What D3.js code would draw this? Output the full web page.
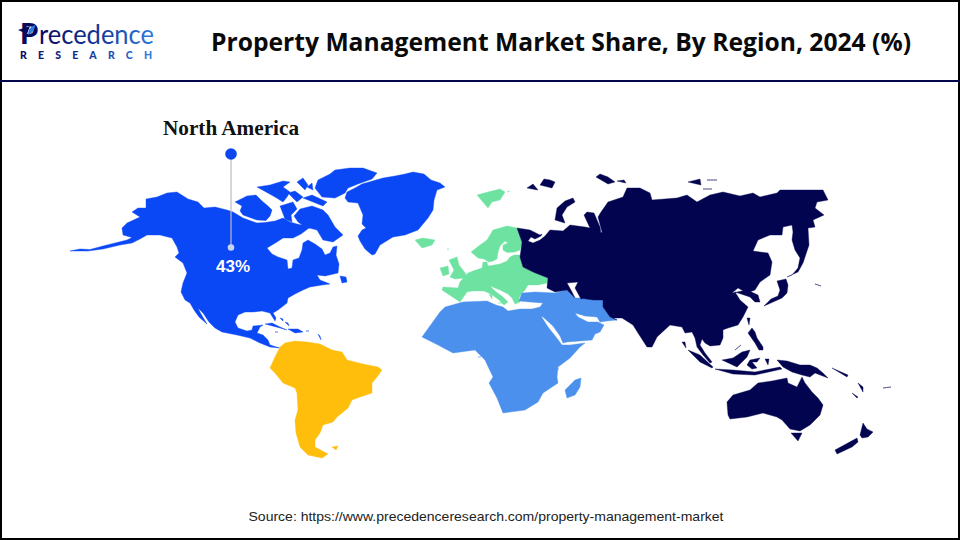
<!DOCTYPE html>
<html><head><meta charset="utf-8">
<script src="https://cdn.jsdelivr.net/npm/d3@7"></script>
<style>html,body{margin:0;background:#fff}svg{display:block}</style></head>
<body><svg id="c" width="960" height="540"></svg>
<script>
// Region categories and the one printed share
const regionNames = ["North America","South America","Europe","Middle East and Africa","Asia Pacific"];
const regionColors = ["#0a47f5","#ffbe0b","#6de2a1","#4a90ec","#020450"];
const labelledRegion = "North America";
const labelledShare = 43;
const titleText = "Property Management Market Share, By Region, 2024 (%)";
const sourceText = "Source: https://www.precedenceresearch.com/property-management-market";

// Outlines in map units, [east of the map origin, north of the map origin]
const northAmerica = [
 [[-390,94],[-380,96],[-370,95.5],[-357,99],[-345,102],[-333,105],[-328,107.5],[-337,110],[-338,117],[-333,122],[-320,128],[-328,133],[-322,137],[-314,137],[-314,146],[-303,148],[-293,152],[-283,153],[-272,146],[-262,143],[-256,137],[-245,138],[-233,135],[-227,133],[-217,127],[-203,122],[-195,122.5],[-185,124],[-177,127],[-170,123],[-163,121],[-154,119],[-151,117],[-159,111],[-167,107],[-177,107],[-183,103],[-193,97],[-188,91],[-182,88],[-173,85],[-172,76],[-168,77],[-167,85],[-161,87],[-158,95],[-157,102],[-152,105],[-145,101],[-138,96],[-135,90],[-130,92],[-127,98],[-123,99],[-124,90],[-121,81],[-122,72],[-135,69],[-143,70],[-140,65],[-130,61],[-138,60],[-150,58],[-157,55],[-165,51],[-172,47],[-173,42],[-182,35],[-187,32],[-184,27],[-185,24],[-190,32],[-198,34],[-207,33],[-215,33],[-222,30],[-225,23],[-222,17],[-213,14],[-208,15],[-207,19],[-197,20],[-200,18],[-203,12],[-197,10],[-192,5],[-190,0],[-180,-3],[-190,-2],[-200,2],[-210,7],[-223,10],[-238,13],[-245,17],[-251,23],[-257,32],[-262,37],[-259,31],[-253,21],[-261,28],[-266,35],[-270,42],[-275,45],[-279,53],[-277,62],[-273,72],[-277,82],[-285,88],[-281,92],[-283,98],[-288,107],[-300,110],[-313,110],[-320,106],[-328,102],[-340,100],[-357,96],[-372,94],[-388,93]],
 // Greenland
 [[-77,167],[-65,169],[-55,171],[-47,173],[-36,171],[-29,165],[-20,162],[-15,158],[-23,155],[-26,145],[-27,135],[-32,127],[-42,115],[-55,110],[-67,108],[-80,100],[-85,91],[-88,90],[-95,96],[-100,104],[-102,109],[-98,115],[-94,117],[-98,121],[-97,130],[-102,142],[-112,143],[-115,147],[-113,153],[-105,157],[-98,161],[-88,164]],
 // Ellesmere
 [[-145,157],[-142,165],[-130,171],[-125,175],[-110,177],[-97,177],[-83,172],[-88,166],[-102,161],[-112,157],[-115,152],[-125,147],[-138,148],[-143,150]],
 // Banks and Victoria
 [[-225,143],[-213,149],[-204,150],[-198,144],[-192,139],[-188,135],[-190,129],[-194,124.5],[-203,125],[-217,130],[-220,134],[-218,139],[-221,137]],
 // Arctic islands
 [[-203,158],[-190,160],[-177,164],[-170,163],[-177,158],[-170,153],[-173,148],[-177,143],[-185,148],[-197,153]],
 [[-163,163],[-157,167],[-152,160],[-155,155],[-162,157]],
 [[-153,158],[-148,162],[-147,155],[-152,153]],
 [[-172,152],[-165,154],[-157,148],[-163,143],[-170,147]],
 [[-157,147],[-148,150],[-133,143],[-137,139],[-148,140]],
 [[-180,139],[-167,143],[-163,136],[-169,130],[-168,123],[-175,126],[-176,133]],
 // Baffin
 [[-166,129],[-160,136],[-148,139],[-137,135],[-132,130],[-125,118],[-117,110],[-127,103],[-137,105],[-143,115],[-155,118],[-162,123],[-167,124]],
 // Newfoundland
 [[-120,69],[-114,68],[-113,63],[-118,62],[-122,66]],
 // Caribbean
 [[-195,21],[-188,22],[-180,18],[-173,15],[-180,17],[-188,20]],
 [[-172,16],[-162,16],[-157,13],[-165,12],[-170,13]],
 [[-180,27],[-177,26],[-177,24],[-180,25]],
 [[-175,23],[-172,22],[-171,19],[-174,20]],
 [[-185,13],[-182,13],[-183,11]],
 [[-154,14],[-151,14],[-152,12.5]],
 [[-142,11],[-140,9],[-139,5],[-141,7]]
];
const southAmerica = [
 [[-180,-2],[-175,2],[-165,4],[-153,3],[-140,1],[-128,-5],[-118,-7],[-113,-15],[-97,-19],[-82,-22],[-78,-25],[-83,-32],[-88,-38],[-88,-48],[-100,-52],[-108,-55],[-112,-63],[-123,-72],[-127,-77],[-137,-80],[-140,-88],[-145,-95],[-145,-102],[-132,-109],[-138,-113],[-152,-110],[-160,-102],[-164,-88],[-165,-75],[-162,-65],[-163,-48],[-165,-43],[-177,-38],[-185,-28],[-190,-23],[-185,-12],[-180,-8]],
 [[-128,-102],[-122,-101],[-124,-105],[-128,-105]]
];
const europe = [
 [[-18,55],[-17,58],[-2,57],[0,63],[8,72],[13,74],[22,77],[23,83],[27,83],[28,79],[40,81],[47,84],[50,88],[54,90],[60,90],[63,78],[73,73],[88,67],[87,62],[78,60],[68,60],[65,55],[62,52],[59,47],[60,43],[55,41],[52,47],[48,51],[40,55],[30,59],[35,54],[43,48],[48,43],[44,40],[39,45],[31,51],[24,54],[12,54],[7,53],[0,43],[-15,43]],
 // Scandinavia
 [[11,93],[20,100],[27,105],[33,115],[47,119],[57,117],[60,110],[62,103],[60,95],[55,93],[47,92.5],[43,95],[43,100],[48,102],[45,104],[40,99],[38,93],[37,86],[33,84],[29,83],[24,86],[18,87],[13,87]],
 // Britain, Ireland, Iceland, Svalbard
 [[-11,85],[-3,88],[-1,80],[6,71],[5,67],[-5,66],[-10,68],[-6,75],[-10,79]],
 [[-20,77],[-12,79],[-11,71],[-17,69],[-20,73]],
 [[-45,105],[-37,107],[-25,105],[-28,100],[-38,97],[-44,100]],
 [[17,150],[28,153],[40,156],[45,153],[40,145],[32,143],[28,137],[20,145]],
 [[47,153],[50,154],[49,152]],
 [[-13,96],[-11,96],[-11,94]],
 // Mediterranean islands
 [[29,51],[32,50],[32,46],[29,46]],
 [[38,42],[42,42],[40,39]]
];
const middleEastAfrica = [
 [[-20,33],[-15,38],[3,43],[27,44],[36,40],[43,38],[48,34],[60,36],[72,36],[80,38],[83,42],[70,43],[59,44],[62,52],[75,53],[95,52],[107,55],[115,47],[123,47],[133,45],[143,45],[143,38],[150,28],[157,25],[147,24],[140,23],[137,28],[125,29],[115,32],[118,28],[128,23],[138,23],[144,20],[140,13],[135,11],[132,5],[120,4],[107,3],[103,2],[100,9],[93,19],[83,28],[81,29],[88,18],[96,8],[102,0],[110,0],[125,2],[120,-2],[110,-13],[98,-22],[97,-32],[98,-38],[83,-48],[78,-57],[65,-65],[43,-68],[37,-53],[29,-38],[33,-32],[25,-15],[15,-5],[-7,-8],[-22,0],[-38,8],[-37,18]],
 [[105,-45],[115,-35],[121,-33],[120,-42],[115,-50],[107,-53],[103,-50]],
 [[18,-12],[21,-12],[20,-15]],
 [[96,-24],[99,-24],[98,-26]]
];
const asiaPacific = [
 [[57,117],[70,115],[80,110],[82,111],[81,109],[75,106],[71,108],[68,104],[73,102],[80,105],[85,109],[90,115],[103,114],[110,120],[125,118],[130,117],[124,130],[127,133],[134,132],[140,118],[141,112],[142,113],[138,128],[141,133],[148,143],[163,148],[167,157],[180,157],[190,152],[192,145],[217,147],[227,150],[237,143],[250,150],[263,153],[280,149],[293,152],[300,148],[317,152],[320,155],[347,155],[363,155],[368,145],[357,143],[355,137],[364,130],[353,125],[355,118],[348,117],[349,100],[345,88],[343,82],[338,73],[327,68],[332,70],[338,77],[340,87],[335,95],[332,105],[333,113],[332,120],[323,118],[322,110],[310,110],[298,105],[293,94],[300,93],[308,92],[312,83],[310,70],[300,63],[295,55],[287,52],[278,57],[272,52],[287,55],[298,50],[300,43],[295,43],[290,48],[275,53],[280,45],[288,38],[283,28],[278,20],[268,17],[257,13],[263,16],[263,7],[260,0],[250,-1],[245,2],[242,6],[240,0],[245,-8],[252,-17],[250,-18],[243,-10],[237,-2],[235,7],[232,13],[225,12],[222,18],[210,20],[197,8],[192,-2],[187,-2],[178,12],[173,20],[162,27],[153,27],[157,25],[150,28],[143,38],[143,45],[133,45],[123,46.5],[121,46],[115,57],[118,63],[107,62],[112,53],[115,47],[107,55],[95,53],[87,57],[88,67],[73,73],[63,78],[60,88],[61,95],[62,103],[60,110]],
 // Novaya Zemlya and Arctic islands
 [[95,125],[97,137],[105,144],[113,147],[115,143],[107,138],[102,130],[105,122],[98,121]],
 [[67,157],[73,161],[78,155],[72,154]],
 [[80,160],[84,166],[90,165],[95,163],[92,157],[80,156]],
 [[136,168],[140,171],[148,168],[155,163],[148,161],[140,163]],
 [[157,164],[164,165],[166,162],[160,157]],
 [[228,163],[240,166],[241,160],[233,158]],
 [[247,165],[257,165],[252,163]],
 [[243,156],[252,156],[248,153]],
 // Japan and near islands
 [[304,39],[311,46],[318,49],[320,55],[317,64],[326,66],[328,60],[327,52],[322,47],[313,43],[308,38]],
 [[287,27],[290,27],[289,20],[286,20]],
 [[355,61],[361,59],[358,58]],
 // Philippines
 [[288,12],[292,17],[295,13],[297,7],[303,-2],[303,-5],[299,-5],[295,2],[288,5]],
 [[275,-5],[281,0],[279,-6]],
 // Borneo, Sulawesi, Sumatra, Java arc
 [[262,-15],[273,-13],[282,-7],[290,-5],[287,-12],[282,-17],[277,-22],[267,-21]],
 [[287,-20],[290,-15],[300,-13],[297,-17],[292,-17],[297,-23],[292,-24],[288,-23]],
 [[228,-5],[240,-10],[253,-22],[252,-23],[240,-17],[230,-10]],
 [[255,-24],[273,-25],[295,-27],[320,-22],[322,-24],[295,-30],[273,-29],[256,-27]],
 [[222,3],[225,3],[226,-3],[224,-3]],
 // New Guinea and Melanesia
 [[317,-15],[327,-16],[340,-20],[350,-20],[357,-23],[363,-28],[368,-33],[355,-28],[350,-32],[342,-30],[332,-27],[323,-22],[315,-18]],
 [[372,-23],[388,-30],[387,-32],[370,-25]],
 [[305,-14],[309,-14],[308,-20],[305,-19]],
 [[398,-38],[403,-42],[403,-47],[400,-43]],
 [[392,-48],[398,-52],[397,-53],[391,-49]],
 [[423,-43],[431,-42],[428,-44]],
 // Australia and Tasmania
 [[267,-57],[273,-50],[290,-45],[298,-38],[312,-36],[327,-33],[328,-38],[337,-42],[342,-32],[345,-38],[352,-47],[358,-53],[363,-60],[360,-70],[350,-80],[340,-86],[330,-84],[322,-75],[317,-72],[303,-68],[287,-72],[270,-74],[268,-70],[270,-62]],
 [[331,-88],[342,-88],[338,-96],[333,-96]],
 // New Zealand
 [[403,-78],[407,-84],[413,-87],[408,-92],[402,-93],[400,-90],[405,-85]],
 [[397,-93],[398,-97],[392,-102],[377,-109],[375,-105],[387,-98]]
];
const regionShapes = [northAmerica,southAmerica,europe,middleEastAfrica,asiaPacific];

const svg = d3.select("#c");
const W = 960, H = 540;

const grad = svg.append("defs").append("linearGradient").attr("id","logoGrad");
grad.append("stop").attr("offset","0%").attr("stop-color","#0a0a5c");
grad.append("stop").attr("offset","55%").attr("stop-color","#123a9c");
grad.append("stop").attr("offset","100%").attr("stop-color","#2f7de0");

// Frame and header rule
svg.append("rect").attr("x",1).attr("y",1).attr("width",W-2).attr("height",H-2)
  .attr("fill","none").attr("stroke","#000").attr("stroke-width",2);
svg.append("line").attr("x1",0).attr("x2",W).attr("y1",81).attr("y2",81)
  .attr("stroke","#05054a").attr("stroke-width",2);

// Map through d3's geo path
const projection = d3.geoIdentity().reflectY(true).translate([460,345]);
const path = d3.geoPath(projection);
const features = regionNames.map((name,i)=>({type:"Feature",properties:{name,color:regionColors[i]},
  geometry:{type:"MultiPolygon",coordinates:regionShapes[i].map(r=>[r])}}));
svg.append("g").selectAll("path").data(features).join("path")
  .attr("d",path).attr("fill",d=>d.properties.color).attr("stroke",d=>d.properties.color)
  .attr("stroke-width",0.4).attr("stroke-linejoin","round");

// Callout
const callout = svg.append("g");
callout.append("line").attr("x1",231).attr("x2",231).attr("y1",154).attr("y2",247)
  .attr("stroke","#b9bcc4").attr("stroke-width",1.2);
callout.append("circle").attr("cx",231).attr("cy",154).attr("r",5.8).attr("fill","#0a47f0");
callout.append("circle").attr("cx",231).attr("cy",247.5).attr("r",3.3).attr("fill","#c7d3f2");
callout.append("text").attr("x",231).attr("y",135).attr("text-anchor","middle")
  .attr("font-family","Liberation Serif").attr("font-weight","700").attr("font-size",21)
  .attr("textLength",136).attr("lengthAdjust","spacingAndGlyphs")
  .attr("fill","#111").text(labelledRegion);
callout.append("text").attr("x",233).attr("y",272).attr("text-anchor","middle")
  .attr("font-family","Liberation Sans").attr("font-weight","700").attr("font-size",17)
  .attr("fill","#fff").text(labelledShare+"%");

// Title and source
svg.append("text").attr("x",561).attr("y",51).attr("text-anchor","middle")
  .attr("font-family","Open Sans").attr("font-weight","700").attr("font-size",25)
  .attr("textLength",700).attr("lengthAdjust","spacingAndGlyphs").attr("fill","#0a0a0a").text(titleText);
svg.append("text").attr("x",486).attr("y",521).attr("text-anchor","middle")
  .attr("font-family","Liberation Sans").attr("font-size",13.2)
  .attr("textLength",475).attr("lengthAdjust","spacingAndGlyphs").attr("fill","#222").text(sourceText);

// Logo
const logo = svg.append("g");
logo.append("text").attr("x",20).attr("y",44).attr("font-family","Lato").attr("font-weight","900")
  .attr("font-size",29).attr("fill","#0a0a5c").text("P");
logo.append("path").attr("d","M18 30 L30 26 L27 34 Z").attr("fill","#0a0a5c");
logo.append("path").attr("d","M28 35 Q28 27 35 25 Q35 32 28 35 Z").attr("fill","#2f7de0");
logo.append("text").attr("x",39).attr("y",44).attr("font-family","Lato").attr("font-weight","400")
  .attr("font-size",26).attr("textLength",115).attr("lengthAdjust","spacingAndGlyphs")
  .attr("fill","url(#logoGrad)").text("recedence");
logo.append("text").attr("x",20).attr("y",59).attr("font-family","Lato").attr("font-weight","900")
  .attr("font-size",10.5).attr("textLength",132).attr("fill","url(#logoGrad)").text("RESEARCH");
</script></body></html>
